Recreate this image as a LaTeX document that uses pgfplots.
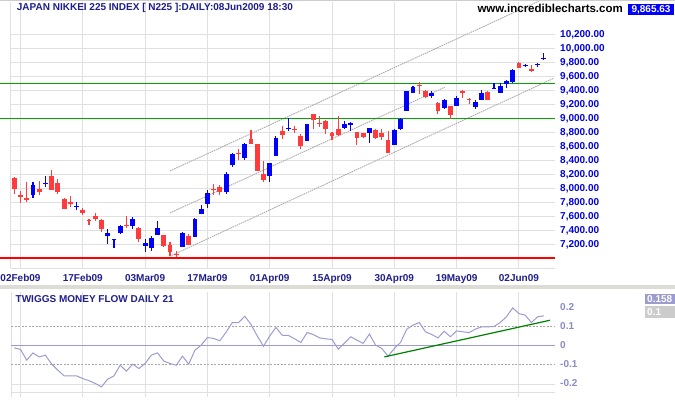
\documentclass[border=0pt]{standalone}
\usepackage{pgfplots}
\usepackage{pgfplotstable}
\pgfplotsset{compat=1.18}
\usepackage{fontspec}
\setmainfont{Liberation Sans}
\definecolor{cred}{HTML}{FF3B3B}
\definecolor{cblue}{HTML}{0000FF}
\definecolor{lblue}{HTML}{0000E0}
\definecolor{navy}{HTML}{1F1F8C}
\definecolor{gridc}{HTML}{E0E0E0}
\definecolor{chan}{HTML}{ABABAB}
\definecolor{tmf}{HTML}{9C9CD0}
\definecolor{lab2}{HTML}{8A8AC8}
\definecolor{sep}{HTML}{DEDDD5}
\definecolor{gline}{RGB}{0,165,0}
\definecolor{dashc}{HTML}{A8A8A8}

\pgfplotstableread{
i O H L C
2 7904 8095 7866 8047
4 8061 8176 8023 8080
9 7742 7809 7690 7757
14 7323 7419 7209 7371
15 7261 7280 7152 7275
16 7366 7476 7347 7461
18 7471 7590 7423 7571
20 7180 7285 7094 7228
21 7152 7318 7109 7294
22 7333 7533 7333 7437
26 7166 7380 7166 7371
28 7309 7580 7309 7571
29 7633 7761 7633 7709
30 7780 7975 7728 7942
33 7952 8237 7918 8214
34 8333 8509 8309 8490
36 8433 8652 8404 8642
40 8175 8366 8094 8366
41 8466 8747 8466 8728
43 8843 9000 8819 8867
46 8681 8928 8681 8919
52 8866 8962 8843 8919
53 8914 8952 8819 8938
56 8795 8862 8652 8862
60 8628 8843 8628 8833
61 8857 9014 8833 8990
62 9109 9390 9109 9390
63 9366 9471 9366 9443
66 9328 9395 9295 9366
68 9156 9280 9142 9271
70 9175 9328 9175 9299
73 9166 9271 9142 9237
74 9261 9414 9261 9366
76 9428 9509 9428 9442
77 9366 9509 9366 9461
78 9499 9547 9437 9533
79 9523 9704 9514 9690
81 9747 9785 9737 9771
83 9771 9795 9737 9785
84 9847 9937 9842 9871
}\bluetab

\pgfplotstableread{
i O H L C
-1 8152 8160 7928 7995
0 7904 7966 7795 7881
1 7861 8095 7809 7833
3 7990 8104 7904 7947
5 8176 8261 7976 7976
6 8080 8133 7919 7952
7 7847 7866 7700 7709
8 7800 7890 7738 7785
10 7695 7719 7623 7652
11 7547 7571 7485 7533
12 7604 7647 7538 7566
13 7547 7561 7380 7428
17 7480 7604 7442 7461
19 7442 7452 7238 7285
23 7333 7333 7166 7175
24 7190 7237 7037 7094
25 7066 7104 7023 7052
27 7323 7347 7190 7190
31 7999 8061 7909 7980
32 8018 8047 7904 7952
35 8509 8566 8404 8490
37 8714 8842 8633 8633
38 8633 8642 8252 8252
39 8204 8394 8094 8118
42 8818 8890 8704 8766
44 8857 8890 8795 8833
45 8747 8776 8562 8604
47 9062 9071 8857 8985
48 8938 9033 8881 8919
49 8962 8976 8776 8847
50 8795 8809 8690 8752
51 8857 9033 8747 8762
54 8809 8809 8619 8728
55 8795 8795 8728 8738
57 8833 8857 8704 8728
58 8795 8857 8690 8738
59 8690 8819 8509 8509
64 9476 9518 9350 9461
65 9390 9404 9299 9309
67 9223 9237 9061 9109
69 9175 9175 8999 9047
71 9395 9404 9299 9366
72 9285 9290 9204 9271
75 9375 9390 9261 9271
80 9795 9804 9718 9728
82 9709 9761 9666 9675
}\redtab

\pgfplotstableread{
i v
-1 -0.012
0 -0.021
1 -0.077
2 -0.039
3 -0.060
4 -0.051
5 -0.098
6 -0.130
7 -0.160
8 -0.160
9 -0.160
10 -0.174
11 -0.185
12 -0.200
13 -0.218
14 -0.177
15 -0.160
16 -0.104
17 -0.135
18 -0.098
19 -0.121
20 -0.095
21 -0.051
22 -0.039
23 -0.082
24 -0.095
25 -0.104
26 -0.056
27 -0.098
28 -0.025
29 0.002
30 0.042
31 0.037
32 0.025
33 0.070
34 0.121
35 0.121
36 0.154
37 0.110
38 0.050
39 -0.004
40 0.050
41 0.095
42 0.054
43 0.053
44 0.035
45 0.016
46 0.068
47 0.058
48 0.040
49 0.035
50 0.032
51 -0.019
52 0.012
53 0.046
54 0.028
55 0.011
56 0.060
57 0.002
58 -0.016
59 -0.056
60 -0.016
61 0.016
62 0.086
63 0.107
64 0.121
65 0.072
66 0.058
67 0.040
68 0.075
69 0.046
70 0.077
71 0.072
72 0.068
73 0.086
74 0.098
75 0.098
76 0.100
77 0.121
78 0.151
79 0.198
80 0.168
81 0.160
82 0.121
83 0.151
84 0.156
}\tmftab

\newcommand\lf{\bfseries\fontsize{10bp}{12bp}\selectfont}
\pgfplotsset{
  wick/.style={draw=#1, line width=1.1bp, mark=none, forget plot, -,
    quiver={u=0, v=\thisrow{H}-\thisrow{L}}},
  bodyup/.style={draw=#1, line width=4.8bp, mark=none, forget plot, -,
    quiver={u=0, v=\thisrow{C}-\thisrow{O}}},
  bodydn/.style={draw=#1, line width=4.8bp, mark=none, forget plot, -,
    quiver={u=0, v=\thisrow{O}-\thisrow{C}}},
}

\begin{document}
\begin{tikzpicture}
\useasboundingbox (0bp,0bp) rectangle (675bp,400bp);
\clip (0bp,0bp) rectangle (675bp,400bp);
\fill[white] (0bp,0bp) rectangle (675bp,400bp);

% ---------------- upper panel ----------------
\begin{axis}[
  at={(0bp,131.8bp)}, anchor=south west,
  width=555bp, height=266.5bp, scale only axis,
  xmin=-3.29, xmax=85.79, ymin=6861.4, ymax=10668.6,
  axis line style={draw=none}, major tick length=0pt,
  scaled y ticks=false,
  xtick={0,10,20,30,40,50,60,70,80},
  xticklabels={02Feb09,17Feb09,03Mar09,17Mar09,01Apr09,15Apr09,30Apr09,19May09,02Jun09},
  ytick={7200,7400,7600,7800,8000,8200,8400,8600,8800,9000,9200,9400,9600,9800,10000,10200},
  yticklabel pos=right,
  yticklabel style={anchor=west, inner sep=0pt, xshift=5bp, text=lblue, font=\lf,
    /pgf/number format/.cd, fixed, fixed zerofill, precision=2, 1000 sep={,}, assume math mode=true},
  xticklabel style={anchor=north, inner sep=0pt, yshift=-6bp, text=navy, font=\lf},
]
% grid
\pgfplotsinvokeforeach{7200,7400,7600,7800,8000,8200,8400,8600,8800,9000,9200,9400,9600,9800,10000,10200}{
  \draw[gridc, line width=1bp] (axis cs:-1.525,#1) -- (axis cs:85.79,#1);
}
\pgfplotsinvokeforeach{-1.525,0,10,20,30,40,50,60,70,80}{
  \draw[gridc, line width=1bp] (axis cs:#1,6861.4) -- (axis cs:#1,10668.6);
}
\draw[gridc, line width=1bp] (axis cs:-1.525,6861.4) -- (axis cs:85.79,6861.4);
% channel
\addplot[draw=chan, line width=0.9bp, dash pattern=on 1.5bp off 0.8bp, mark=none] coordinates {(24.0,8251) (83.5,10690)};
\addplot[draw=chan, line width=0.9bp, dash pattern=on 1.5bp off 0.8bp, mark=none] coordinates {(24.0,7651) (68.1,9447)};
\addplot[draw=chan, line width=0.9bp, dash pattern=on 1.5bp off 0.8bp, mark=none] coordinates {(24.0,7033) (85.5,9571)};
% levels
\addplot[draw=gline, line width=1.8bp, mark=none] coordinates {(-3.29,9000) (85.79,9000)};
\addplot[draw=gline, line width=1.8bp, mark=none] coordinates {(-3.29,9500) (85.79,9500)};
\addplot[draw=red, line width=2bp, mark=none] coordinates {(-3.29,7000) (85.79,7000)};
% candles
\addplot[wick=cblue] table[x=i, y=L] \bluetab;
\addplot[bodyup=cblue] table[x=i, y=O] \bluetab;
\addplot[wick=cred] table[x=i, y=L] \redtab;
\addplot[bodydn=cred] table[x=i, y=C] \redtab;
\end{axis}

% ---------------- lower panel ----------------
\begin{axis}[
  at={(11bp,7.8bp)}, anchor=south west,
  width=544bp, height=100bp, scale only axis,
  xmin=-1.525, xmax=85.79, ymin=-0.2458, ymax=0.2805,
  axis line style={draw=none}, major tick length=0pt,
  xtick=\empty,
  ytick={-0.2,-0.1,0,0.1,0.2},
  yticklabels={-0.2,-0.1,0,0.1,0.2},
  yticklabel pos=right,
  yticklabel style={anchor=west, inner sep=0pt, xshift=5bp, text=lab2, font=\lf},
  clip=false,
]
\pgfplotsinvokeforeach{-1.525,0,10,20,30,40,50,60,70,80}{
  \draw[gridc, line width=1bp] (axis cs:#1,-0.272) -- (axis cs:#1,0.2805);
}
\draw[gridc, line width=1bp] (axis cs:-1.525,-0.2458) -- (axis cs:85.79,-0.2458);
\draw[gridc, line width=1bp] (axis cs:-1.525,-0.205) -- (axis cs:85.79,-0.205);
\addplot[draw=dashc, line width=1bp, dash pattern=on 2bp off 1.5bp, mark=none] coordinates {(-1.525,0.1) (85.79,0.1)};
\addplot[draw=dashc, line width=1bp, dash pattern=on 2bp off 1.5bp, mark=none] coordinates {(-1.525,-0.1) (85.79,-0.1)};
\addplot[draw=tmf, line width=1.6bp, mark=none] coordinates {(-1.525,0) (85.79,0)};
\addplot[draw=tmf, line width=1bp, mark=none] table[x=i, y=v] \tmftab;
\addplot[draw=green!50!black, line width=1.2bp, mark=none] coordinates {(58.4,-0.06) (85.0,0.133)};
\end{axis}

% separator
\fill[sep] (0bp,110.5bp) rectangle (675bp,114.5bp);
\draw[gray!40, line width=0.8bp] (0bp,399.6bp) -- (675bp,399.6bp);

% texts
\node[anchor=west, inner sep=0pt, text=navy, font=\lf] at (16.7bp,391.7bp) {JAPAN NIKKEI 225 INDEX [ N225 ]:DAILY:08Jun2009 18:30};
\node[anchor=east, inner sep=0pt, font=\bfseries\fontsize{11.5bp}{13bp}\selectfont] at (623bp,391.7bp) {www.incrediblecharts.com};
\fill[cblue] (628bp,384.5bp) rectangle (674bp,396bp);
\node[anchor=center, inner sep=0pt, text=white, font=\lf] at (651bp,390.3bp) {9,865.63};
\node[anchor=west, inner sep=0pt, text=navy, font=\lf] at (15.5bp,101bp) {TWIGGS MONEY FLOW DAILY 21};
\fill[tmf] (645bp,95.7bp) rectangle (675bp,105.7bp);
\node[anchor=west, inner sep=0pt, text=white, font=\lf] at (647bp,100.7bp) {0.158};
\fill[gray!40] (645bp,81.7bp) rectangle (675bp,94.3bp);
\node[anchor=west, inner sep=0pt, text=white, font=\lf] at (647bp,88bp) {0.1};
\end{tikzpicture}
\end{document}
